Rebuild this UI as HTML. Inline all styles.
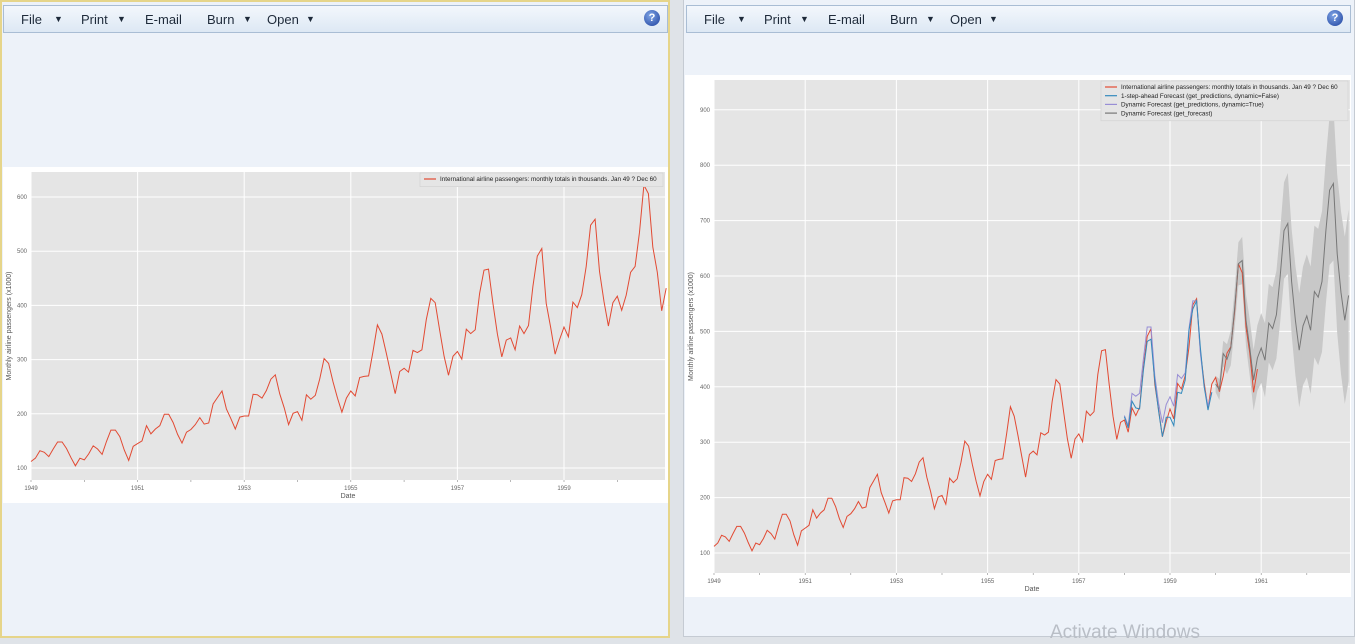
<!DOCTYPE html>
<html><head><meta charset="utf-8"><style>
body{margin:0;width:1355px;height:640px;overflow:hidden;background:#dfe3e8;font-family:"Liberation Sans",sans-serif;position:relative}
.panel{position:absolute;background:#edf2f9}
.tb{position:absolute;height:28px;background:linear-gradient(#f3f7fc,#dde8f4);border:1px solid #a9bdd4;box-sizing:border-box;font-size:13px;color:#1e2a3a}
.tb span{position:absolute;top:6px}
.tri{font-size:9px}
.help{position:absolute;top:4px;width:16px;height:16px;border-radius:50%;background:radial-gradient(circle at 40% 35%,#7fa5e6,#1c3f9c);color:#fff;font-size:11px;font-weight:bold;text-align:center;line-height:16px}
svg text{font-family:"Liberation Sans",sans-serif}
</style></head><body>
<div class="panel" style="left:0;top:0;width:666px;height:634px;border:2px solid #e6d58a"></div>
<div class="panel" style="left:683px;top:0;width:670px;height:636px;border:1px solid #c5cbd3;border-top:none"></div>
<div class="tb" style="left:3px;top:5px;width:665px">
<span style="left:17px">File</span><span class="tri" style="left:50px;top:8px">▼</span>
<span style="left:77px">Print</span><span class="tri" style="left:113px;top:8px">▼</span>
<span style="left:141px">E-mail</span>
<span style="left:203px">Burn</span><span class="tri" style="left:239px;top:8px">▼</span>
<span style="left:263px">Open</span><span class="tri" style="left:302px;top:8px">▼</span>
<div class="help" style="left:640px">?</div></div>
<div class="tb" style="left:686px;top:5px;width:665px">
<span style="left:17px">File</span><span class="tri" style="left:50px;top:8px">▼</span>
<span style="left:77px">Print</span><span class="tri" style="left:113px;top:8px">▼</span>
<span style="left:141px">E-mail</span>
<span style="left:203px">Burn</span><span class="tri" style="left:239px;top:8px">▼</span>
<span style="left:263px">Open</span><span class="tri" style="left:302px;top:8px">▼</span>
<div class="help" style="left:640px">?</div></div>
<svg id="s" width="1355" height="640" style="position:absolute;left:0;top:0"></svg>
<div style="position:absolute;left:1050px;top:622px;font-size:19px;color:#b9bec6">Activate Windows</div>
<script>
const passengers=[112,118,132,129,121,135,148,148,136,119,104,118,115,126,141,135,125,149,170,170,158,133,114,140,145,150,178,163,172,178,199,199,184,162,146,166,171,180,193,181,183,218,230,242,209,191,172,194,196,196,236,235,229,243,264,272,237,211,180,201,204,188,235,227,234,264,302,293,259,229,203,229,242,233,267,269,270,315,364,347,312,274,237,278,284,277,317,313,318,374,413,405,355,306,271,306,315,301,356,348,355,422,465,467,404,347,305,336,340,318,362,348,363,435,491,505,404,359,310,337,360,342,406,396,420,472,548,559,463,407,362,405,417,391,419,461,472,535,622,606,508,461,390,432];
const oneStep=[346,326,374,362,360,430,482,486,410,356,310,345,345,330,390,388,412,502,540,555,470,400,358,390];
const dynamicPred=[348,330,388,383,388,450,508,508,420,370,335,368,382,365,422,415,425,505,555,555,460,400,365,390];
const forecast=[405,395,460,450,470,540,622,628,520,470,412,452,470,448,515,505,530,600,682,695,590,520,466,510,528,502,572,562,590,680,755,767,640,570,520,565];
const ciLower=[390,376,437,423,439,505,583,585,473,419,357,393,407,381,444,430,451,517,595,604,495,421,363,403,417,387,453,439,463,549,620,628,497,423,369,410];
const ciUpper=[420,414,483,477,501,575,661,671,567,521,467,511,533,515,586,580,609,683,769,786,685,619,569,617,639,617,691,685,717,811,890,906,783,717,671,720];
const yTicksL=[100,200,300,400,500,600];
const yTicksR=[100,200,300,400,500,600,700,800,900];
const xLabels=[1949,1951,1953,1955,1957,1959,1961];
const legendL=["International airline passengers: monthly totals in thousands. Jan 49 ? Dec 60"];
const legendR=["International airline passengers: monthly totals in thousands. Jan 49 ? Dec 60","1-step-ahead Forecast (get_predictions, dynamic=False)","Dynamic Forecast (get_predictions, dynamic=True)","Dynamic Forecast (get_forecast)"];
const NS="http://www.w3.org/2000/svg",S=document.getElementById('s');
function mk(t,a,p){const e=document.createElementNS(NS,t);for(const k in a)e.setAttribute(k,a[k]);(p||S).appendChild(e);return e;}
function chart(c){
 const g=mk('g',{});
 
 
 const bg=mk('rect',{x:c.wx,y:c.wy,width:c.ww,height:c.wh,fill:'#fff'},g);
 
 
 const pa=mk('rect',{x:c.x0,y:c.y0,width:c.x1-c.x0,height:c.y1-c.y0,fill:'#e5e5e5'},g);
 
 
 const X=t=>c.x0+(t-1949)*c.px, Y=v=>c.yb-(v-100)*c.py;
 c.yt.forEach(v=>{mk('line',{x1:c.x0,x2:c.x1,y1:Y(v),y2:Y(v),stroke:'#fff','stroke-width':1},g);
  const t=mk('text',{x:c.x0-4,y:Y(v)+2,'font-size':6,fill:'#666','text-anchor':'end'},g);t.textContent=v;
  
  });
 xLabels.forEach(yr=>{if(X(yr)>c.x1)return;mk('line',{x1:X(yr),x2:X(yr),y1:c.y0,y2:c.y1,stroke:'#fff','stroke-width':1},g);
  const t=mk('text',{x:X(yr),y:c.y1+10,'font-size':6,fill:'#666','text-anchor':'middle'},g);t.textContent=yr;
  
  });
 for(let yr=1949;X(yr)<=c.x1;yr++)mk('line',{x1:X(yr),x2:X(yr),y1:c.y1,y2:c.y1+2,stroke:'#888','stroke-width':0.6},g);
 const path=(arr,start,col,w,nm)=>{const d=arr.map((v,i)=>(i?'L':'M')+X(start+i/12).toFixed(1)+','+Y(v).toFixed(1)).join('');
  const p=mk('path',{d:d,fill:'none',stroke:col,'stroke-width':w},g);
  
  };
 if(c.full){
  let d=ciUpper.map((v,i)=>(i?'L':'M')+X(1960+i/12).toFixed(1)+','+Y(v).toFixed(1)).join('');
  for(let i=ciLower.length-1;i>=0;i--)d+='L'+X(1960+i/12).toFixed(1)+','+Y(ciLower[i]).toFixed(1);
  const b=mk('path',{d:d+'Z',fill:'#c8c8c8'},g);
  
  
 }
 path(passengers,1949,'#e24a33',1,'passengers-line');
 if(c.full){
  path(dynamicPred,1958,'#988ed5',1,'dynamic-prediction-line');
  path(oneStep,1958,'#348abd',1,'one-step-forecast-line');
  path(forecast,1960,'#777',1,'forecast-line');
 }
 const L=c.legend,cols=['#e24a33','#348abd','#988ed5','#777'];
 const lb=mk('rect',{x:c.lx,y:c.y0+1,width:c.x1-c.lx-2,height:L.length*8.7+5,fill:'#e5e5e5',stroke:'#d0d0d0','stroke-width':0.6},g);
 
 
 L.forEach((s,i)=>{const yy=c.y0+7+i*8.7;mk('line',{x1:c.lx+4,x2:c.lx+16,y1:yy,y2:yy,stroke:cols[i],'stroke-width':1.2},g);
  const t=mk('text',{x:c.lx+20,y:yy+2.2,'font-size':6.3,fill:'#222'},g);t.textContent=s;
  
  });
 const yl=mk('text',{x:0,y:0,'font-size':7,fill:'#555','text-anchor':'middle',transform:`translate(${c.wx+8},${(c.y0+c.y1)/2}) rotate(-90)`},g);
 yl.textContent='Monthly airline passengers (x1000)';
 
 
 const xl=mk('text',{x:(c.x0+c.x1)/2,y:c.y1+18,'font-size':7,fill:'#555','text-anchor':'middle'},g);
 xl.textContent='Date';
 
 
}
chart({name:'left-chart',wx:3,wy:167,ww:665,wh:336,x0:31,x1:665,y0:172,y1:480,yb:468,px:53.3,py:0.542,yt:yTicksL,lx:420,legend:legendL,full:false});
chart({name:'right-chart',wx:685,wy:75,ww:666,wh:522,x0:714,x1:1350,y0:80,y1:573,yb:553,px:45.6,py:0.554,yt:yTicksR,lx:1101,legend:legendR,full:true});
</script>
</body></html>
